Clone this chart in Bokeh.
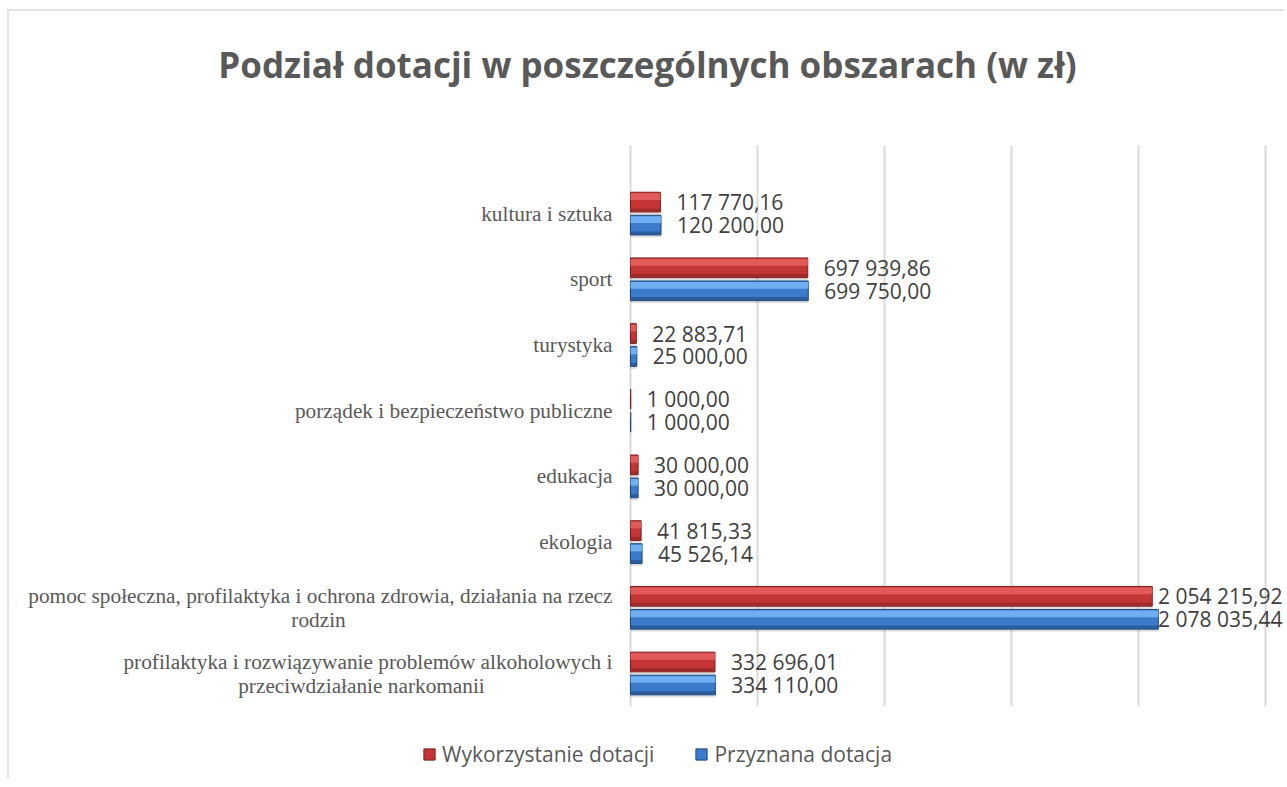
from bokeh.plotting import figure
from bokeh.models import (ColumnDataSource, Range1d, Label, LabelSet, Legend, LegendItem)
from bokeh.core.properties import value
from bokeh.embed import file_html
from bokeh.resources import INLINE

# ---------------- data ----------------
categories = [
    "profilaktyka i rozwiązywanie problemów alkoholowych i\nprzeciwdziałanie narkomanii",
    "pomoc społeczna, profilaktyka i ochrona zdrowia, działania na rzecz\nrodzin",
    "ekologia",
    "edukacja",
    "porządek i bezpieczeństwo publiczne",
    "turystyka",
    "sport",
    "kultura i sztuka",
]
wykorzystanie = [332696.01, 2054215.92, 41815.33, 30000.00, 1000.00, 22883.71, 697939.86, 117770.16]
przyznana = [334110.00, 2078035.44, 45526.14, 30000.00, 1000.00, 25000.00, 699750.00, 120200.00]
series_names = ["Wykorzystanie dotacji", "Przyznana dotacja"]
title_text = "Podział dotacji w poszczególnych obszarach (w zł)"
grid_ticks = [0, 500000, 1000000, 1500000, 2000000, 2500000]


def fmt(v):
    return f"{v:,.2f}".replace(",", " ").replace(".", ",")


W, HGT = 1277, 770
PX_PER_UNIT = 2.54e-4      # horizontal scale (px per zł)
X0_PX = 621                # position of value 0 from the canvas left
PX_PER_CAT = 65.7
Y0_PX = 108                # position of category 0 from the canvas bottom
X_END = (W - X0_PX) / PX_PER_UNIT

LBL_GAP = 16
LBL_FS = 21
LBL_RIGHT_LIMIT = W - 4    # labels that would overflow are pushed inside the chart

idx = list(range(len(categories)))
OFF = 0.175
H = 0.30


def label_cols(vals, ys):
    inside = dict(x=[], y=[], t=[])
    edge = dict(x=[], y=[], t=[])
    for v, y in zip(vals, ys):
        t = fmt(v)
        est_w = len(t) * 0.52 * LBL_FS
        if X0_PX + v * PX_PER_UNIT + LBL_GAP + est_w > LBL_RIGHT_LIMIT:
            edge["x"].append(X_END); edge["y"].append(y); edge["t"].append(t)
        else:
            inside["x"].append(v); inside["y"].append(y); inside["t"].append(t)
    return inside, edge


red_y = [i + OFF for i in idx]
blue_y = [i - OFF for i in idx]
red_src = ColumnDataSource(dict(y=red_y, v=wykorzystanie))
blue_src = ColumnDataSource(dict(y=blue_y, v=przyznana))

p = figure(width=W, height=HGT, output_backend="svg", toolbar_location=None,
           x_range=Range1d(-X0_PX / PX_PER_UNIT, X_END),
           y_range=Range1d(-Y0_PX / PX_PER_CAT, (HGT - Y0_PX) / PX_PER_CAT),
           min_border=0, min_border_left=0, min_border_right=0,
           min_border_top=0, min_border_bottom=0)
p.title.visible = False
p.xaxis.visible = False
p.yaxis.visible = False
p.xgrid.visible = False
p.ygrid.visible = False
p.outline_line_color = None
p.background_fill_color = "white"
p.border_fill_color = "white"
p.styles = {"margin-left": "7px", "margin-top": "9px",
            "border-top": "2px solid #e3e3e3", "border-left": "2px solid #e3e3e3"}

FONT_SANS = "Open Sans"
FONT_SERIF = "Liberation Serif"

# vertical gridlines (value axis)
p.segment(x0=grid_ticks, y0=[-0.5] * len(grid_ticks), x1=grid_ticks,
          y1=[8.035] * len(grid_ticks), line_color="#d9d9d9", line_width=2)

# soft shadows
red_sh = ColumnDataSource(dict(y=[y - 0.04 for y in red_y], v=wykorzystanie))
blue_sh = ColumnDataSource(dict(y=[y - 0.04 for y in blue_y], v=przyznana))
for s in (red_sh, blue_sh):
    p.hbar(y="y", right="v", left=0, height=H, source=s, fill_color="#000000",
           fill_alpha=0.12, line_color=None)

red_main = p.hbar(y="y", right="v", left=0, height=H, source=red_src,
                  fill_color="#C63535", line_color="#7a1e1e", line_width=1)
blue_main = p.hbar(y="y", right="v", left=0, height=H, source=blue_src,
                   fill_color="#3A7BCB", line_color="#1f4677", line_width=1)

# highlight / shade strips (bevel look)
red_hl = ColumnDataSource(dict(y=[y + H * 0.28 for y in red_y], v=wykorzystanie))
blue_hl = ColumnDataSource(dict(y=[y + H * 0.28 for y in blue_y], v=przyznana))
p.hbar(y="y", right="v", left=0, height=H * 0.34, source=red_hl,
       fill_color="#E25A5A", line_color=None)
p.hbar(y="y", right="v", left=0, height=H * 0.34, source=blue_hl,
       fill_color="#6FAEF0", line_color=None)
red_dk = ColumnDataSource(dict(y=[y - H * 0.40 for y in red_y], v=wykorzystanie))
blue_dk = ColumnDataSource(dict(y=[y - H * 0.40 for y in blue_y], v=przyznana))
p.hbar(y="y", right="v", left=0, height=H * 0.16, source=red_dk,
       fill_color="#9E2A2A", line_color=None)
p.hbar(y="y", right="v", left=0, height=H * 0.16, source=blue_dk,
       fill_color="#2B5C9C", line_color=None)

# data labels
for vals, ys in ((wykorzystanie, red_y), (przyznana, blue_y)):
    inside, edge = label_cols(vals, ys)
    p.add_layout(LabelSet(x="x", y="y", text="t", source=ColumnDataSource(inside),
                          x_offset=LBL_GAP, text_align="left", text_baseline="middle",
                          text_font=value(FONT_SANS), text_font_size=value(f"{LBL_FS}px"),
                          text_color=value("#404040")))
    p.add_layout(LabelSet(x="x", y="y", text="t", source=ColumnDataSource(edge),
                          x_offset=-(W - LBL_RIGHT_LIMIT), text_align="right",
                          text_baseline="middle",
                          text_font=value(FONT_SANS), text_font_size=value(f"{LBL_FS}px"),
                          text_color=value("#404040")))

# category labels
second_line_center = {0: -269, 1: -312}
for i, cat in enumerate(categories):
    lines = cat.split("\n")
    if len(lines) == 1:
        p.add_layout(Label(x=0, y=i, x_offset=-18, text=cat, text_align="right",
                           text_baseline="middle", text_font=FONT_SERIF,
                           text_font_size="21.3px", text_color="#595959"))
    else:
        p.add_layout(Label(x=0, y=i, x_offset=-18, y_offset=12, text=lines[0],
                           text_align="right", text_baseline="middle",
                           text_font=FONT_SERIF, text_font_size="21.3px",
                           text_color="#595959"))
        p.add_layout(Label(x=0, y=i, x_offset=second_line_center[i], y_offset=-12,
                           text=lines[1], text_align="center", text_baseline="middle",
                           text_font=FONT_SERIF, text_font_size="21.3px",
                           text_color="#595959"))

# title (screen units, relative to the frame's bottom-left = canvas bottom-left)
p.add_layout(Label(x=638, y=717, x_units="screen", y_units="screen", text=title_text,
                   text_align="center", text_baseline="middle", text_font=FONT_SANS,
                   text_font_style="bold", text_font_size="35px", text_color="#595959"))

legend = Legend(items=[LegendItem(label=series_names[0], renderers=[red_main]),
                       LegendItem(label=series_names[1], renderers=[blue_main])],
                orientation="horizontal", location=(413, 13),
                glyph_width=14, glyph_height=14, label_standoff=6, spacing=40,
                padding=0, margin=0, border_line_color=None,
                background_fill_alpha=0, label_text_font=FONT_SANS,
                label_text_font_size="21px", label_text_color="#595959")
p.add_layout(legend)

open("out.html", "w").write(file_html(p, INLINE))
